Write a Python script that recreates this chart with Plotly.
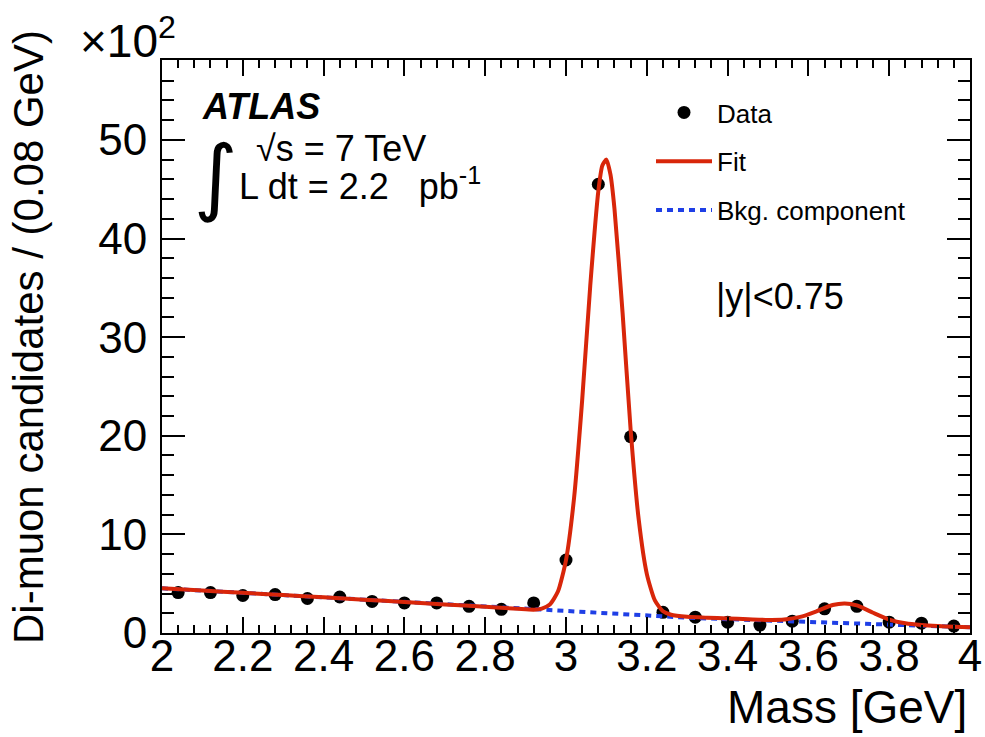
import plotly.graph_objects as go

# Data points (x10^2 candidates per 0.08 GeV)
mass_bins = [2.04, 2.12, 2.20, 2.28, 2.36, 2.44, 2.52, 2.60, 2.68, 2.76, 2.84, 2.92,
             3.00, 3.08, 3.16, 3.24, 3.32, 3.40, 3.48, 3.56, 3.64, 3.72, 3.80, 3.88, 3.96]
counts = [4.1, 4.1, 3.8, 3.9, 3.5, 3.65, 3.2, 3.05, 3.05, 2.7, 2.4, 3.05,
          7.4, 45.5, 19.9, 2.1, 1.6, 1.1, 0.8, 1.2, 2.45, 2.7, 1.1, 1.0, 0.7]

# Fit curve
fit_x = [2.0, 2.1, 2.2, 2.3, 2.4, 2.5, 2.6, 2.7, 2.8, 2.88, 2.92, 2.94, 2.96, 2.98,
         3.00, 3.02, 3.04, 3.06, 3.08, 3.09, 3.10, 3.11, 3.12, 3.14, 3.16, 3.18, 3.20,
         3.22, 3.24, 3.26, 3.30, 3.35, 3.40, 3.45, 3.50, 3.54, 3.58, 3.62, 3.66, 3.69,
         3.72, 3.76, 3.80, 3.84, 3.88, 3.92, 3.96, 4.0]
fit_y = [4.53, 4.30, 4.07, 3.85, 3.62, 3.38, 3.14, 2.90, 2.66, 2.45, 2.36, 2.48, 2.90, 4.20,
         7.40, 13.7, 23.6, 35.2, 44.8, 47.4, 48.0, 46.5, 43.0, 32.5, 20.6, 11.5, 6.0,
         3.3, 2.2, 1.85, 1.65, 1.55, 1.48, 1.40, 1.32, 1.36, 1.63, 2.20, 2.84, 3.0,
         2.80, 2.05, 1.36, 0.98, 0.80, 0.70, 0.64, 0.58]

# Background component
bkg_x = [2.0, 2.2, 2.4, 2.6, 2.8, 2.9, 3.0, 3.1, 3.2, 3.3, 3.4, 3.5, 3.6, 3.7, 3.8, 3.9, 4.0]
bkg_y = [4.53, 4.07, 3.62, 3.14, 2.66, 2.38, 2.14, 1.93, 1.72, 1.55, 1.40, 1.26, 1.13, 1.0, 0.85, 0.72, 0.58]

x_ticks = [2.0, 2.2, 2.4, 2.6, 2.8, 3.0, 3.2, 3.4, 3.6, 3.8, 4.0]
x_tick_labels = ["2", "2.2", "2.4", "2.6", "2.8", "3", "3.2", "3.4", "3.6", "3.8", "4"]
y_ticks = [0, 10, 20, 30, 40, 50]

RED = "#d8260a"
BLUE = "#1f3fe6"
FONT = "Liberation Sans, Arial, Helvetica, sans-serif"

fig = go.Figure()
fig.add_trace(go.Scatter(x=mass_bins, y=counts, mode="markers", name="Data",
                         marker=dict(color="black", size=13), legendgroup="a", legendrank=1))
fig.add_trace(go.Scatter(x=bkg_x, y=bkg_y, mode="lines", name="Bkg. component",
                         line=dict(color=BLUE, width=4, dash="6px,5px"), legendgroup="c",
                         legendrank=3))
fig.add_trace(go.Scatter(x=fit_x, y=fit_y, mode="lines", name="Fit",
                         line=dict(color=RED, width=4, shape="spline", smoothing=0.6),
                         legendgroup="b", legendrank=2))

axis_common = dict(showline=True, linecolor="black", linewidth=2, mirror="ticks",
                   ticks="inside", tickcolor="black", tickwidth=1.5,
                   showgrid=False, zeroline=False, automargin=False,
                   tickfont=dict(family=FONT, size=44, color="black"))

fig.update_xaxes(range=[2, 4], tickvals=x_ticks, ticktext=x_tick_labels, ticklen=16,
                 minor=dict(dtick=0.04, ticklen=8, tickcolor="black", tickwidth=1.5, ticks="inside"),
                 ticklabelstandoff=-17,
                 **axis_common)
fig.update_yaxes(range=[0, 58.1], tickvals=y_ticks, ticklen=23,
                 minor=dict(dtick=2, ticklen=12, tickcolor="black", tickwidth=1.5, ticks="inside"),
                 ticklabelstandoff=4,
                 **axis_common)

def px_x(p):
    return (p - 162) / 808

def px_y(p):
    return (633 - p) / 573

ann = []
ann.append(dict(text="Mass [GeV]", x=px_x(969), y=px_y(707), xanchor="right", yanchor="middle",
                font=dict(family=FONT, size=46, color="black")))
ann.append(dict(text="Di-muon candidates / (0.08 GeV)", x=px_x(28), y=px_y(337), textangle=-90,
                xanchor="center", yanchor="middle",
                font=dict(family=FONT, size=42, color="black")))
ann.append(dict(text="×10<sup>2</sup>", x=px_x(78), y=px_y(38), xanchor="left", yanchor="middle",
                font=dict(family=FONT, size=46, color="black")))
ann.append(dict(text="<b><i>ATLAS</i></b>", x=px_x(200), y=px_y(106), xanchor="left", yanchor="middle",
                font=dict(family=FONT, size=36, color="black")))
ann.append(dict(text="∫", x=px_x(216), y=px_y(176), xanchor="center", yanchor="middle",
                font=dict(family="DejaVu Sans", size=84, color="black")))
ann.append(dict(text="√s = 7 TeV", x=px_x(254), y=px_y(149), xanchor="left", yanchor="middle",
                font=dict(family=FONT, size=36, color="black")))
ann.append(dict(text="L dt = 2.2   pb<sup>-1</sup>", x=px_x(237), y=px_y(184), xanchor="left", yanchor="middle",
                font=dict(family=FONT, size=36, color="black")))
ann.append(dict(text="|y|<0.75", x=px_x(714), y=px_y(296), xanchor="left", yanchor="middle",
                font=dict(family=FONT, size=36, color="black")))
for a in ann:
    a.update(xref="paper", yref="paper", showarrow=False)

fig.update_layout(
    width=985, height=737,
    margin=dict(l=162, r=15, t=60, b=104),
    plot_bgcolor="white", paper_bgcolor="white",
    annotations=ann,
    showlegend=True,
    legend=dict(x=px_x(651), y=px_y(89), xanchor="left", yanchor="top",
                font=dict(family=FONT, size=26, color="black"),
                bgcolor="rgba(0,0,0,0)", itemwidth=56, traceorder="grouped",
                tracegroupgap=12),
)

fig.write_html("out.html")
